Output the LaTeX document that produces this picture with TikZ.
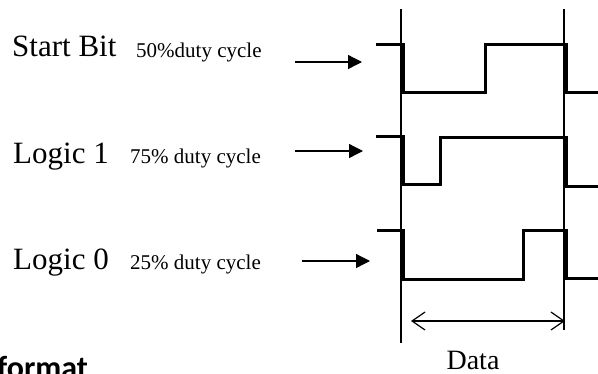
\documentclass[tikz,border=0pt]{standalone}
\usepackage{fontspec}
\setmainfont{Liberation Serif}
\newfontfamily\headfont{Carlito}
\usetikzlibrary{arrows.meta,positioning}
\tikzstyle{biglabel} = [font=\fontsize{31}{34}\selectfont, anchor=base west, inner sep=0pt]
\tikzstyle{duty} = [font=\fontsize{21}{24}\selectfont, anchor=base west, inner sep=0pt]
\tikzstyle{wave} = [line width=3pt]
\tikzstyle{guide} = [line width=1.2pt]
\tikzstyle{arrow} = [line width=1.3pt, -{Triangle[length=14pt,width=14pt]}]
\tikzstyle{span} = [line width=1.2pt, {Straight Barb[length=13pt,width=18pt]}-{Straight Barb[length=13pt,width=18pt]}]

\begin{document}
\begin{tikzpicture}[x=1pt,y=-1pt]
    \useasboundingbox (0,0) rectangle (598,373);

    % labels
    \node (start) [biglabel] at (12,56) {Start Bit};
    \node (startduty) [duty] at (136,57) {50\%duty cycle};
    \node (one) [biglabel] at (13,163) {Logic 1};
    \node (oneduty) [duty] at (130,163) {75\% duty cycle};
    \node (zero) [biglabel] at (13,269) {Logic 0};
    \node (zeroduty) [duty] at (130,269) {25\% duty cycle};
    \node (data) [font=\fontsize{28}{32}\selectfont, anchor=base, inner sep=0pt] at (473,369) {Data};
    \node (fmt) [font=\headfont\bfseries\fontsize{32}{34}\selectfont, anchor=base west, inner sep=0pt] at (-3,378) {format};

    % arrows to the waveforms
    \coordinate (sTail) at (295,62);  \coordinate (sTip) at (362,62);
    \coordinate (oTail) at (295,151); \coordinate (oTip) at (363,151);
    \coordinate (zTail) at (302,261); \coordinate (zTip) at (370,261);
    \draw [arrow] (sTail) -- (sTip);
    \draw [arrow] (oTail) -- (oTip);
    \draw [arrow] (zTail) -- (zTip);

    % bit boundaries
    \draw [guide] (401,9) -- (401,343);
    \draw [guide] (564,9) -- (564,330);

    % waveforms
    \draw [wave] (376,44) -- (403,44) -- (403,92) -- (485,92) -- (485,44) -- (566,44) -- (566,92) -- (598,92);
    \draw [wave] (376,136) -- (403,136) -- (403,184) -- (440,184) -- (440,137) -- (566,137) -- (566,186) -- (598,186);
    \draw [wave] (377,230) -- (403,230) -- (403,279) -- (523,279) -- (523,230) -- (566,230) -- (566,278) -- (598,278);

    % data width
    \coordinate (dLeft) at (411,321);
    \coordinate (dRight) at (565,321);
    \draw [span] (dLeft) -- (dRight);

\end{tikzpicture}
\end{document}
